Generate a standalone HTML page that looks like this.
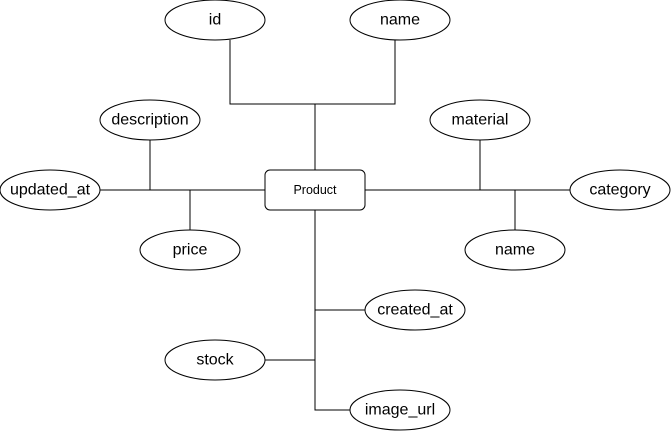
<!DOCTYPE html>
<html><head><style>
html,body{margin:0;padding:0;background:#fff;}
svg{display:block;}
text{font-family:"Liberation Sans",Arial,sans-serif;font-size:16px;fill:#000;text-anchor:middle;dominant-baseline:central;}
</style></head><body>
<svg width="671" height="431" viewBox="0 0 671 431" xmlns="http://www.w3.org/2000/svg">
<g stroke="#000" stroke-width="1" fill="none">
<polyline points="230,40 230,104 395,104 395,40"/>
<line x1="315" y1="104" x2="315" y2="170"/>
<line x1="100" y1="190" x2="265" y2="190"/>
<line x1="150" y1="140" x2="150" y2="190"/>
<line x1="190" y1="190" x2="190" y2="230"/>
<line x1="365" y1="190" x2="570" y2="190"/>
<line x1="480" y1="140" x2="480" y2="190"/>
<line x1="515" y1="190" x2="515" y2="230"/>
<polyline points="315,210 315,410 350,410"/>
<line x1="315" y1="310" x2="365" y2="310"/>
<line x1="265" y1="360" x2="315" y2="360"/>
</g>
<g stroke="#000" stroke-width="1" fill="#fff">
<ellipse cx="215" cy="20" rx="50" ry="20"/>
<ellipse cx="400" cy="20" rx="50" ry="20"/>
<ellipse cx="150" cy="120" rx="50" ry="20"/>
<ellipse cx="50" cy="190" rx="50" ry="20"/>
<ellipse cx="190" cy="250" rx="50" ry="20"/>
<rect x="265" y="170" width="100" height="40" rx="5"/>
<ellipse cx="480" cy="120" rx="50" ry="20"/>
<ellipse cx="620" cy="190" rx="50" ry="20"/>
<ellipse cx="515" cy="250" rx="50" ry="20"/>
<ellipse cx="415" cy="310" rx="50" ry="20"/>
<ellipse cx="215" cy="360" rx="50" ry="20"/>
<ellipse cx="400" cy="410" rx="50" ry="20"/>
</g>
<text x="215" y="20">id</text>
<text x="400" y="20">name</text>
<text x="150" y="120">description</text>
<text x="50" y="190">updated_at</text>
<text x="190" y="250">price</text>
<text x="315" y="190" style="font-size:12.5px">Product</text>
<text x="480" y="120">material</text>
<text x="620" y="190">category</text>
<text x="515" y="250">name</text>
<text x="415" y="310">created_at</text>
<text x="215" y="360">stock</text>
<text x="400" y="410">image_url</text>
</svg>
</body></html>
